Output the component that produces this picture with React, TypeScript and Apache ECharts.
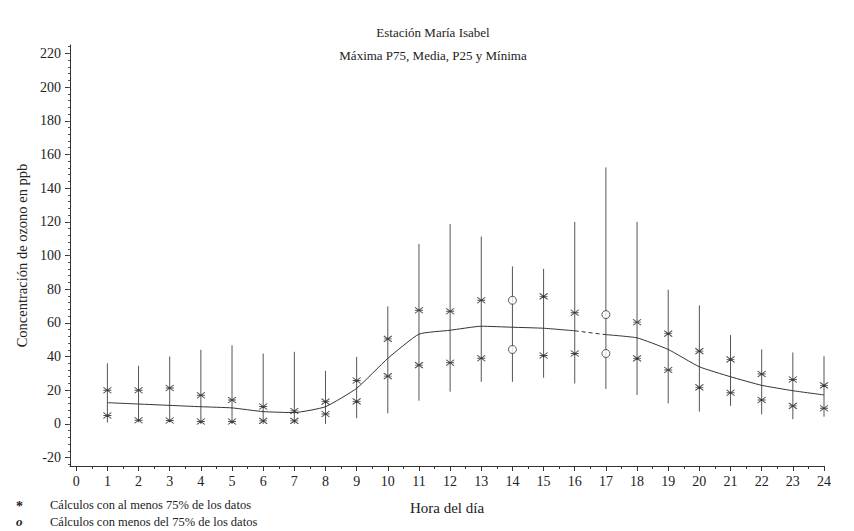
import React, { useEffect, useRef } from "react";
import * as echarts from "echarts";

const hours = [1, 2, 3, 4, 5, 6, 7, 8, 9, 10, 11, 12, 13, 14, 15, 16, 17, 18, 19, 20, 21, 22, 23, 24];
const maxValues = [36, 34.5, 40, 44, 46.7, 41.8, 42.8, 31.5, 39.8, 69.8, 106.9, 118.7, 111.2, 93.5, 92.1, 120, 152.3, 120, 79.7, 70.4, 52.7, 44.2, 42.4, 40.2];
const p75Values = [20, 20, 21.3, 17, 14.2, 10.3, 7.7, 13.2, 25.8, 50.5, 67.5, 66.9, 73.4, 73.4, 75.7, 66, 64.9, 60.4, 53.6, 43.2, 38.3, 29.6, 26.4, 22.9];
const meanValues = [12.6, 11.8, 11, 10.2, 9.5, 7.3, 6.7, 10.2, 21.1, 38.9, 53.3, 55.6, 58, 57.4, 56.8, 55.3, 53, 51.1, 44.2, 33.9, 28, 22.9, 19.7, 17.2];
const p25Values = [5, 2.2, 2, 1.4, 1.4, 1.8, 1.8, 5.9, 13.4, 28.4, 34.9, 36.3, 39, 44.2, 40.6, 41.8, 41.8, 38.9, 32, 21.7, 18.5, 14.2, 10.7, 9.3];
const minValues = [0.8, 1, 1, 0, 0, 0, 0, 0, 3.4, 6.3, 13.8, 19.1, 25, 25, 27.4, 24, 20.7, 17.2, 12.2, 7.3, 10.7, 5.7, 2.8, 4.3];
const partialHours = [14, 17];
const dashedSegment = [16, 17];
const yTickLabels = [-20, 0, 20, 40, 60, 80, 100, 120, 140, 160, 180, 200, 220];
const xTickLabels = [0, 1, 2, 3, 4, 5, 6, 7, 8, 9, 10, 11, 12, 13, 14, 15, 16, 17, 18, 19, 20, 21, 22, 23, 24];

const title = "Estación María Isabel";
const subtitle = "Máxima P75, Media, P25 y Mínima";
const yName = "Concentración de ozono en ppb";
const xName = "Hora del día";
const legendFull = "Cálculos con al menos 75% de los datos";
const legendPartial = "Cálculos con menos del 75% de los datos";

const FONT = "Liberation Serif";
const INK = "#222";
const STAR = "path://M0,0L8,6M8,0L0,6M0,3L8,3";

export default function App() {
  const ref = useRef<HTMLDivElement>(null);
  useEffect(() => {
    if (!ref.current) return;
    const chart = echarts.init(ref.current, null, { renderer: "svg" });

    const yMinor: number[] = [];
    for (let v = -24; v <= 224; v += 4) yMinor.push(v);
    const xMinor: number[] = xTickLabels.slice(0, -1).map((v) => v + 0.5);

    const full = (vals: number[]) => hours.map((h, i) => (partialHours.includes(h) ? null : [h, vals[i]])).filter(Boolean);
    const part = (vals: number[]) => hours.map((h, i) => (partialHours.includes(h) ? [h, vals[i]] : null)).filter(Boolean);

    const meanPairs = hours.map((h, i) => [h, meanValues[i]]);
    const dIdx0 = hours.indexOf(dashedSegment[0]);
    const dIdx1 = hours.indexOf(dashedSegment[1]);

    const yCommon = { type: "value", min: -25, max: 225, gridIndex: 0, position: "left", offset: 0 };
    const xCommon = { type: "value", min: -0.2, max: 24, gridIndex: 0, position: "bottom", offset: 0 };

    const lineBase = {
      type: "line",
      symbol: "none",
      smooth: 0.15,
      lineStyle: { color: "#333", width: 1 },
      xAxisIndex: 0,
      yAxisIndex: 0,
      silent: true,
    };

    chart.setOption({
      animation: false,
      backgroundColor: "#ffffff",
      textStyle: { fontFamily: FONT },
      title: [
        { text: title, left: 428, top: 21, textAlign: "center", textStyle: { fontFamily: FONT, fontSize: 13, fontWeight: "normal", color: INK } },
        { text: subtitle, left: 428, top: 44, textAlign: "center", textStyle: { fontFamily: FONT, fontSize: 13, fontWeight: "normal", color: INK } },
      ],
      grid: { left: 70, right: 30, top: 45, bottom: 65 },
      xAxis: [
        {
          ...xCommon,
          name: xName,
          nameLocation: "middle",
          nameGap: 34,
          nameTextStyle: { fontFamily: FONT, fontSize: 15, color: INK },
          axisLine: { show: true, onZero: false, lineStyle: { color: "#333", width: 1 } },
          axisTick: { show: true, length: 5, customValues: xTickLabels, lineStyle: { color: "#333" } },
          axisLabel: { show: true, customValues: xTickLabels, margin: 8, fontFamily: FONT, fontSize: 14, color: INK },
          splitLine: { show: false },
        },
        {
          ...xCommon,
          axisLine: { show: false, onZero: false },
          axisTick: { show: true, length: 3, customValues: xMinor, lineStyle: { color: "#333" } },
          axisLabel: { show: false },
          splitLine: { show: false },
        },
      ],
      yAxis: [
        {
          ...yCommon,
          name: yName,
          nameLocation: "middle",
          nameGap: 35,
          nameTextStyle: { fontFamily: FONT, fontSize: 14.5, color: INK },
          axisLine: { show: true, onZero: false, lineStyle: { color: "#333", width: 1 } },
          axisTick: { show: true, length: 5, customValues: yTickLabels, lineStyle: { color: "#333" } },
          axisLabel: { show: true, customValues: yTickLabels, margin: 9, fontFamily: FONT, fontSize: 14, color: INK },
          splitLine: { show: false },
        },
        {
          ...yCommon,
          axisLine: { show: false, onZero: false },
          axisTick: { show: true, length: 2, customValues: yMinor, lineStyle: { color: "#555" } },
          axisLabel: { show: false },
          splitLine: { show: false },
        },
      ],
      graphic: [
        { type: "text", left: 16, top: 499, style: { text: "*", font: `bold 14px "${FONT}"`, fill: INK } },
        { type: "text", left: 50, top: 498, style: { text: legendFull, font: `12.5px "${FONT}"`, fill: INK } },
        { type: "text", left: 16, top: 515, style: { text: "o", font: `italic bold 13px "${FONT}"`, fill: INK } },
        { type: "text", left: 50, top: 515, style: { text: legendPartial, font: `12.5px "${FONT}"`, fill: INK } },
      ],
      series: [
        {
          type: "custom",
          xAxisIndex: 0,
          yAxisIndex: 0,
          silent: true,
          data: hours.map((h, i) => [h, minValues[i], maxValues[i]]),
          encode: { x: 0, y: [1, 2] },
          renderItem: (params: any, api: any) => {
            const x = api.value(0);
            const p1 = api.coord([x, api.value(1)]);
            const p2 = api.coord([x, api.value(2)]);
            return {
              type: "line",
              shape: { x1: p1[0], y1: p1[1], x2: p2[0], y2: p2[1] },
              style: { stroke: "#555", lineWidth: 1 },
            };
          },
        },
        { ...lineBase, data: meanPairs.slice(0, dIdx0 + 1) },
        { ...lineBase, smooth: false, lineStyle: { color: "#333", width: 1, type: [4, 3] }, data: meanPairs.slice(dIdx0, dIdx1 + 1) },
        { ...lineBase, data: meanPairs.slice(dIdx1) },
        {
          type: "scatter",
          xAxisIndex: 0,
          yAxisIndex: 0,
          silent: true,
          symbol: STAR,
          symbolSize: [8, 6],
          itemStyle: { color: "none", borderColor: "#222", borderWidth: 1 },
          data: [...full(p75Values), ...full(p25Values)],
          z: 5,
        },
        {
          type: "scatter",
          xAxisIndex: 0,
          yAxisIndex: 0,
          silent: true,
          symbol: "circle",
          symbolSize: 8,
          itemStyle: { color: "#fff", borderColor: "#333", borderWidth: 1 },
          data: [...part(p75Values), ...part(p25Values)],
          z: 5,
        },
      ],
    });
    return () => chart.dispose();
  }, []);
  return <div ref={ref} style={{ width: 854, height: 531, position: "absolute", left: 0, top: 0 }} />;
}
